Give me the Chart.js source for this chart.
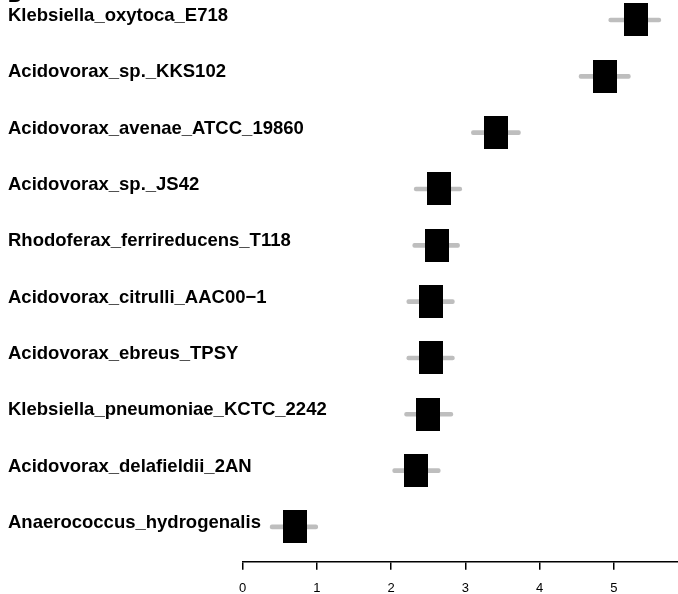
<!DOCTYPE html>
<html>
<head>
<meta charset="utf-8">
<script src="https://cdn.jsdelivr.net/npm/chart.js@4.4.0/dist/chart.umd.min.js"></script>
<style>
  body { margin: 0; background: #fff; }
  #wrap { width: 678px; height: 594px; }
</style>
</head>
<body>
<div id="wrap"><canvas id="forest"></canvas></div>
<script>
// species, top to bottom
const species = [
    'Klebsiella_oxytoca_E718',
    'Acidovorax_sp._KKS102',
    'Acidovorax_avenae_ATCC_19860',
    'Acidovorax_sp._JS42',
    'Rhodoferax_ferrireducens_T118',
    'Acidovorax_citrulli_AAC00\u22121',
    'Acidovorax_ebreus_TPSY',
    'Klebsiella_pneumoniae_KCTC_2242',
    'Acidovorax_delafieldii_2AN',
    'Anaerococcus_hydrogenalis'
];
const estimate = [5.29, 4.88, 3.41, 2.64, 2.61, 2.53, 2.53, 2.50, 2.34, 0.70];
const lower = [4.93, 4.53, 3.08, 2.31, 2.29, 2.21, 2.21, 2.18, 2.02, 0.37];
const upper = [5.63, 5.22, 3.74, 2.95, 2.92, 2.85, 2.85, 2.83, 2.66, 1.01];
const xTicks = [0, 1, 2, 3, 4, 5];

const FONT = "'Liberation Sans', Arial, Helvetica, sans-serif";
const PAD = 8;      // left margin of the labels
const LEFT = 242.7; // where the x axis starts

// black box used as point marker
function box(w, h) {
    const c = document.createElement('canvas');
    c.width = w;
    c.height = h;
    const g = c.getContext('2d');
    g.fillStyle = '#000';
    g.fillRect(0, 0, w, h);
    return c;
}

const ctx = document.getElementById('forest').getContext('2d');
new Chart(ctx, {
    type: 'bar',
    data: {
        datasets: [{
            type: 'scatter',
            data: species.map((s, i) => ({ x: estimate[i], y: i })),
            pointStyle: box(24, 33),
            pointRadius: 5,
            order: 1,
            clip: false
        }, {
            type: 'bar',
            indexAxis: 'y',
            data: species.map((s, i) => ({ x: [lower[i], upper[i]], y: i })),
            backgroundColor: '#bebebe',
            barThickness: 4,
            borderRadius: 2,
            borderSkipped: false,
            grouped: false,
            order: 2,
            clip: false
        }]
    },
    options: {
        responsive: true,
        maintainAspectRatio: false,
        animation: false,
        events: [],
        layout: { padding: { left: PAD, right: 0, top: 0, bottom: 0 }, autoPadding: false },
        plugins: {
            legend: { display: false },
            tooltip: { enabled: false },
            // panel letter, mostly cut off at the top edge like in the original
            title: {
                display: true,
                text: 'B',
                align: 'start',
                color: '#000',
                font: { size: 18.5, weight: 'bold', family: FONT, lineHeight: 1.2 },
                padding: { top: -14.2, bottom: -8 }
            }
        },
        scales: {
            x: {
                type: 'linear',
                offset: false,
                bounds: 'data',
                min: 0,
                max: 5.862,
                afterBuildTicks: s => { s.ticks = xTicks.map(v => ({ value: v })); },
                ticks: {
                    color: '#000',
                    font: { size: 13, family: FONT },
                    padding: 11,
                    maxRotation: 0
                },
                grid: { offset: false, drawOnChartArea: false, tickLength: 8, color: '#000', lineWidth: 1.5 },
                border: { color: '#000', width: 1.5 },
                afterFit: s => {
                    s.height = 32.3;
                    s.paddingLeft = 0;
                    s.paddingRight = 0;
                }
            },
            y: {
                type: 'linear',
                offset: false,
                bounds: 'data',
                reverse: true,
                min: -0.355,
                max: 9.617,
                afterBuildTicks: s => { s.ticks = species.map((e, i) => ({ value: i })); },
                ticks: {
                    callback: v => [species[v], ''], // second empty line lifts the text a little
                    mirror: true, // mirrored labels are not clipped to the axis box
                    padding: PAD - LEFT,
                    crossAlign: 'near',
                    autoSkip: false,
                    color: '#000',
                    font: { size: 18.5, weight: 'bold', family: FONT, lineHeight: '8px' }
                },
                grid: { offset: false, display: false },
                border: { display: false },
                afterFit: s => {
                    s.width = LEFT - PAD;
                    s.paddingTop = 0;
                    s.paddingBottom = 0;
                }
            }
        }
    }
});
</script>
</body>
</html>
